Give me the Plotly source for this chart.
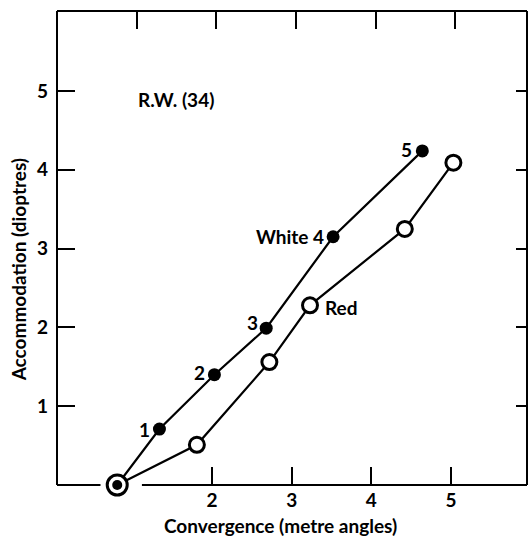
import plotly.graph_objects as go

# Data
white_x = [0.81, 1.34, 2.03, 2.68, 3.52, 4.64]
white_y = [0.0, 0.71, 1.40, 1.99, 3.15, 4.24]
white_labels = ["", "1", "2", "3", "White 4", "5"]
red_x = [0.81, 1.81, 2.72, 3.23, 4.42, 5.03]
red_y = [0.0, 0.51, 1.56, 2.28, 3.25, 4.09]
x_ticks = [2, 3, 4, 5]
x_ticks_top = [1, 2, 3, 4, 5]
y_ticks = [1, 2, 3, 4, 5]

FONT = "Lato"
FS = 19
fnt = dict(family=FONT, size=FS, color="black", weight="bold")
fig = go.Figure()

# White (filled) series
fig.add_trace(go.Scatter(
    x=white_x, y=white_y, mode="lines+markers",
    line=dict(color="black", width=2.2),
    marker=dict(size=13, color="black", opacity=1),
    cliponaxis=False, showlegend=False))
# Red (open) series
fig.add_trace(go.Scatter(
    x=red_x, y=red_y, mode="lines+markers",
    line=dict(color="black", width=2.2),
    marker=dict(size=[20] + [15] * (len(red_x) - 1), color="white", opacity=1,
                line=dict(color="#000000", width=3)),
    cliponaxis=False, showlegend=False))
# shared origin dot
fig.add_trace(go.Scatter(
    x=white_x[:1], y=white_y[:1], mode="markers",
    marker=dict(size=10, color="black"),
    cliponaxis=False, showlegend=False))

# point labels
shifts = {"1": (-7, 0), "2": (-7, 2), "3": (-6, 6), "White 4": (-7, 0), "5": (-8, 1)}
for x, y, t in zip(white_x, white_y, white_labels):
    if not t:
        continue
    dx, dy = shifts[t]
    fig.add_annotation(x=x, y=y, text=t, showarrow=False, xanchor="right",
                       yanchor="middle", xshift=dx, yshift=dy, font=fnt)
fig.add_annotation(x=red_x[3], y=red_y[3], text="Red", showarrow=False,
                   xanchor="left", yanchor="middle", xshift=13, yshift=-2, font=fnt)
fig.add_annotation(x=1.55, y=5.0, text="R.W. (34)", showarrow=False,
                   xanchor="center", yanchor="middle", yshift=-9, font=fnt)

# axis titles
fig.add_annotation(xref="paper", yref="paper", x=0.475, y=-0.057,
                   text="Convergence (metre angles)", showarrow=False,
                   xanchor="center", yanchor="top", font=fnt)
fig.add_annotation(xref="paper", yref="paper", x=-0.083, y=0.455,
                   text="Accommodation (dioptres)", showarrow=False,
                   textangle=-90, xanchor="center", yanchor="middle", font=fnt)

# frame
lw = 2
fig.add_shape(type="line", xref="x domain", yref="y domain", x0=0, x1=0, y0=0, y1=1,
              line=dict(color="black", width=lw))
fig.add_shape(type="line", xref="x domain", yref="y domain", x0=0, x1=1, y0=1, y1=1,
              line=dict(color="black", width=lw))
fig.add_shape(type="line", xref="x domain", yref="y domain", x0=1, x1=1, y0=0, y1=1,
              line=dict(color="black", width=lw))
fig.add_shape(type="line", xref="x", yref="y domain", x0=0.054, x1=0.60, y0=0, y1=0,
              line=dict(color="black", width=lw))
fig.add_shape(type="line", xref="x", yref="y domain", x0=1.12, x1=5.954, y0=0, y1=0,
              line=dict(color="black", width=lw))

fig.update_layout(
    width=528, height=536,
    margin=dict(l=57, r=1, t=11, b=51),
    paper_bgcolor="white", plot_bgcolor="white",
    xaxis=dict(range=[0.054, 5.954], tickvals=x_ticks, ticks="inside", ticklen=18,
               tickwidth=2, tickcolor="black", showgrid=False, zeroline=False,
               showline=False, tickfont=fnt, ticklabelstandoff=2),
    yaxis=dict(range=[0, 6.015], tickvals=y_ticks, ticks="inside", ticklen=18,
               tickwidth=2, tickcolor="black", showgrid=False, zeroline=False,
               showline=False, tickfont=fnt, ticklabelstandoff=8),
    xaxis2=dict(range=[-0.002, 5.898], tickvals=x_ticks_top, ticks="inside",
                ticklen=18, tickwidth=2, tickcolor="black", showgrid=False,
                zeroline=False, showline=False, showticklabels=False,
                overlaying="x", side="top"),
    yaxis2=dict(range=[0, 6.015], tickvals=y_ticks, ticks="inside", ticklen=11,
                tickwidth=2, tickcolor="black", showgrid=False, zeroline=False,
                showline=False, showticklabels=False, overlaying="y", side="right"),
)
# dummy traces to activate the secondary axes
fig.add_trace(go.Scatter(x=[None], y=[None], xaxis="x2", yaxis="y", showlegend=False))
fig.add_trace(go.Scatter(x=[None], y=[None], xaxis="x", yaxis="y2", showlegend=False))

fig.write_html("out.html")
